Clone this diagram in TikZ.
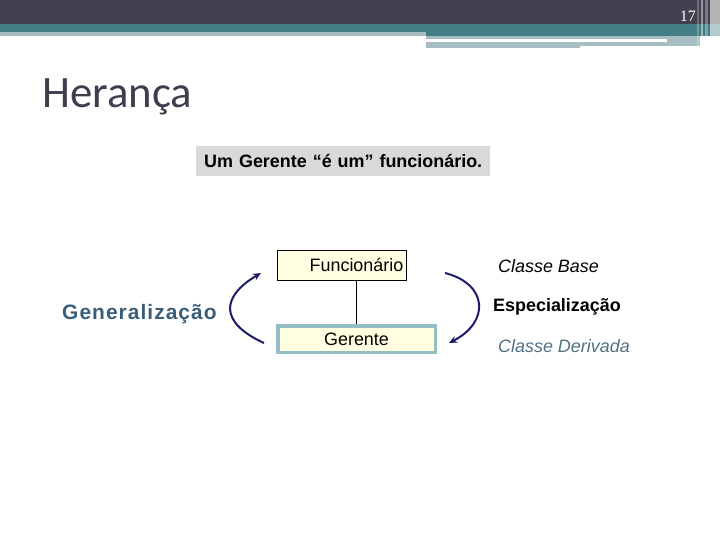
\documentclass[tikz,border=0pt]{standalone}
\usepackage{fontspec}
\setmainfont{Liberation Sans}
\newfontfamily\titlefont{Carlito}
\newfontfamily\numfont{Liberation Serif}
\newfontfamily\genfont[LetterSpace=5]{Liberation Sans}
\usetikzlibrary{arrows.meta}
\definecolor{hdark}{HTML}{41414F}
\definecolor{hteal}{HTML}{437E84}
\definecolor{hlight}{HTML}{A6BEC1}
\definecolor{titlec}{HTML}{3E3E4E}
\definecolor{boxgrey}{HTML}{D9D9D9}
\definecolor{cream}{HTML}{FFFFE1}
\definecolor{gborder}{HTML}{93BFC4}
\definecolor{navyarc}{HTML}{1C1C6B}
\definecolor{genc}{HTML}{3A5E7A}
\definecolor{derc}{HTML}{4E7284}
\tikzset{
  txt/.style={inner sep=0pt, font=\fontsize{18}{21}\selectfont},
  classbox/.style={fill=cream, inner sep=0pt, text height=12.9bp, text depth=0bp,
    font=\fontsize{18}{21}\selectfont},
  arcline/.style={draw=navyarc, line width=2bp, -{Stealth[length=8bp,width=7bp]}},
}
\begin{document}
\begin{tikzpicture}[x=1bp,y=-1bp]
\useasboundingbox (0,0) rectangle (720,540);
% header
\fill[hdark] (0,0) rectangle (720,24);
\fill[hteal] (0,24) rectangle (720,32);
\fill[hlight] (0,32) rectangle (426,36);
\fill[hteal] (426,32) rectangle (720,36);
\fill[hlight] (426,36) rectangle (700,48);
\fill[white] (426,39.5) rectangle (667,42);
\fill[white] (580,46.5) rectangle (707,48.5);
\fill[white,opacity=0.25] (697,0) rectangle (699,47);
\fill[white,opacity=0.45] (701,0) rectangle (703,47);
\fill[white,opacity=0.3] (705,0) rectangle (708,47);
\fill[white,opacity=0.6] (710,0) rectangle (720,47);
\node[anchor=base east, inner sep=0pt, text=white, font=\numfont\fontsize{16}{18}\selectfont] (pagenum) at (696,22) {17};
% title
\node[anchor=base west, inner sep=0pt, text=titlec, font=\titlefont\fontsize{45}{50}\selectfont] (title) at (42,108) {Herança};
% caption box
\node[anchor=west, fill=boxgrey, inner xsep=8bp, inner ysep=0pt, minimum height=30bp,
  text width=278bp, align=left, font=\bfseries\fontsize{18}{21}\selectfont] (caption) at (196,161) {Um Gerente “é um” funcionário.};
% class boxes
\node[classbox, draw=black, line width=1.5bp, minimum width=129bp, minimum height=29.5bp] (func) at (342,265.5) {\hspace*{29bp}Funcionário};
\node[classbox, draw=gborder, line width=3.5bp, minimum width=157.5bp, minimum height=26.5bp] (ger) at (356.5,339) {Gerente};
\draw[line width=0.75bp] (func.south -| ger.north) -- (ger.north);
% arcs
\coordinate (lstart) at (264,343);
\coordinate (lend) at (261,273);
\coordinate (rstart) at (445,273);
\coordinate (rend) at (449,343);
\draw[arcline] (lstart) .. controls (218,322) and (222,296) .. (lend);
\draw[arcline] (rstart) .. controls (488,284) and (490,322) .. (rend);
% labels
\node[txt, anchor=base west, text=genc, font=\genfont\bfseries\fontsize{21}{24}\selectfont] (gen) at (62,319.5) {Generalização};
\node[txt, anchor=base west, font=\itshape\fontsize{18}{21}\selectfont] (base) at (498,272.5) {Classe Base};
\node[txt, anchor=base west, font=\bfseries\fontsize{18}{21}\selectfont] (esp) at (493,311.5) {Especialização};
\node[txt, anchor=base west, text=derc, font=\itshape\fontsize{18}{21}\selectfont] (der) at (498,352.5) {Classe Derivada};
\end{tikzpicture}
\end{document}
